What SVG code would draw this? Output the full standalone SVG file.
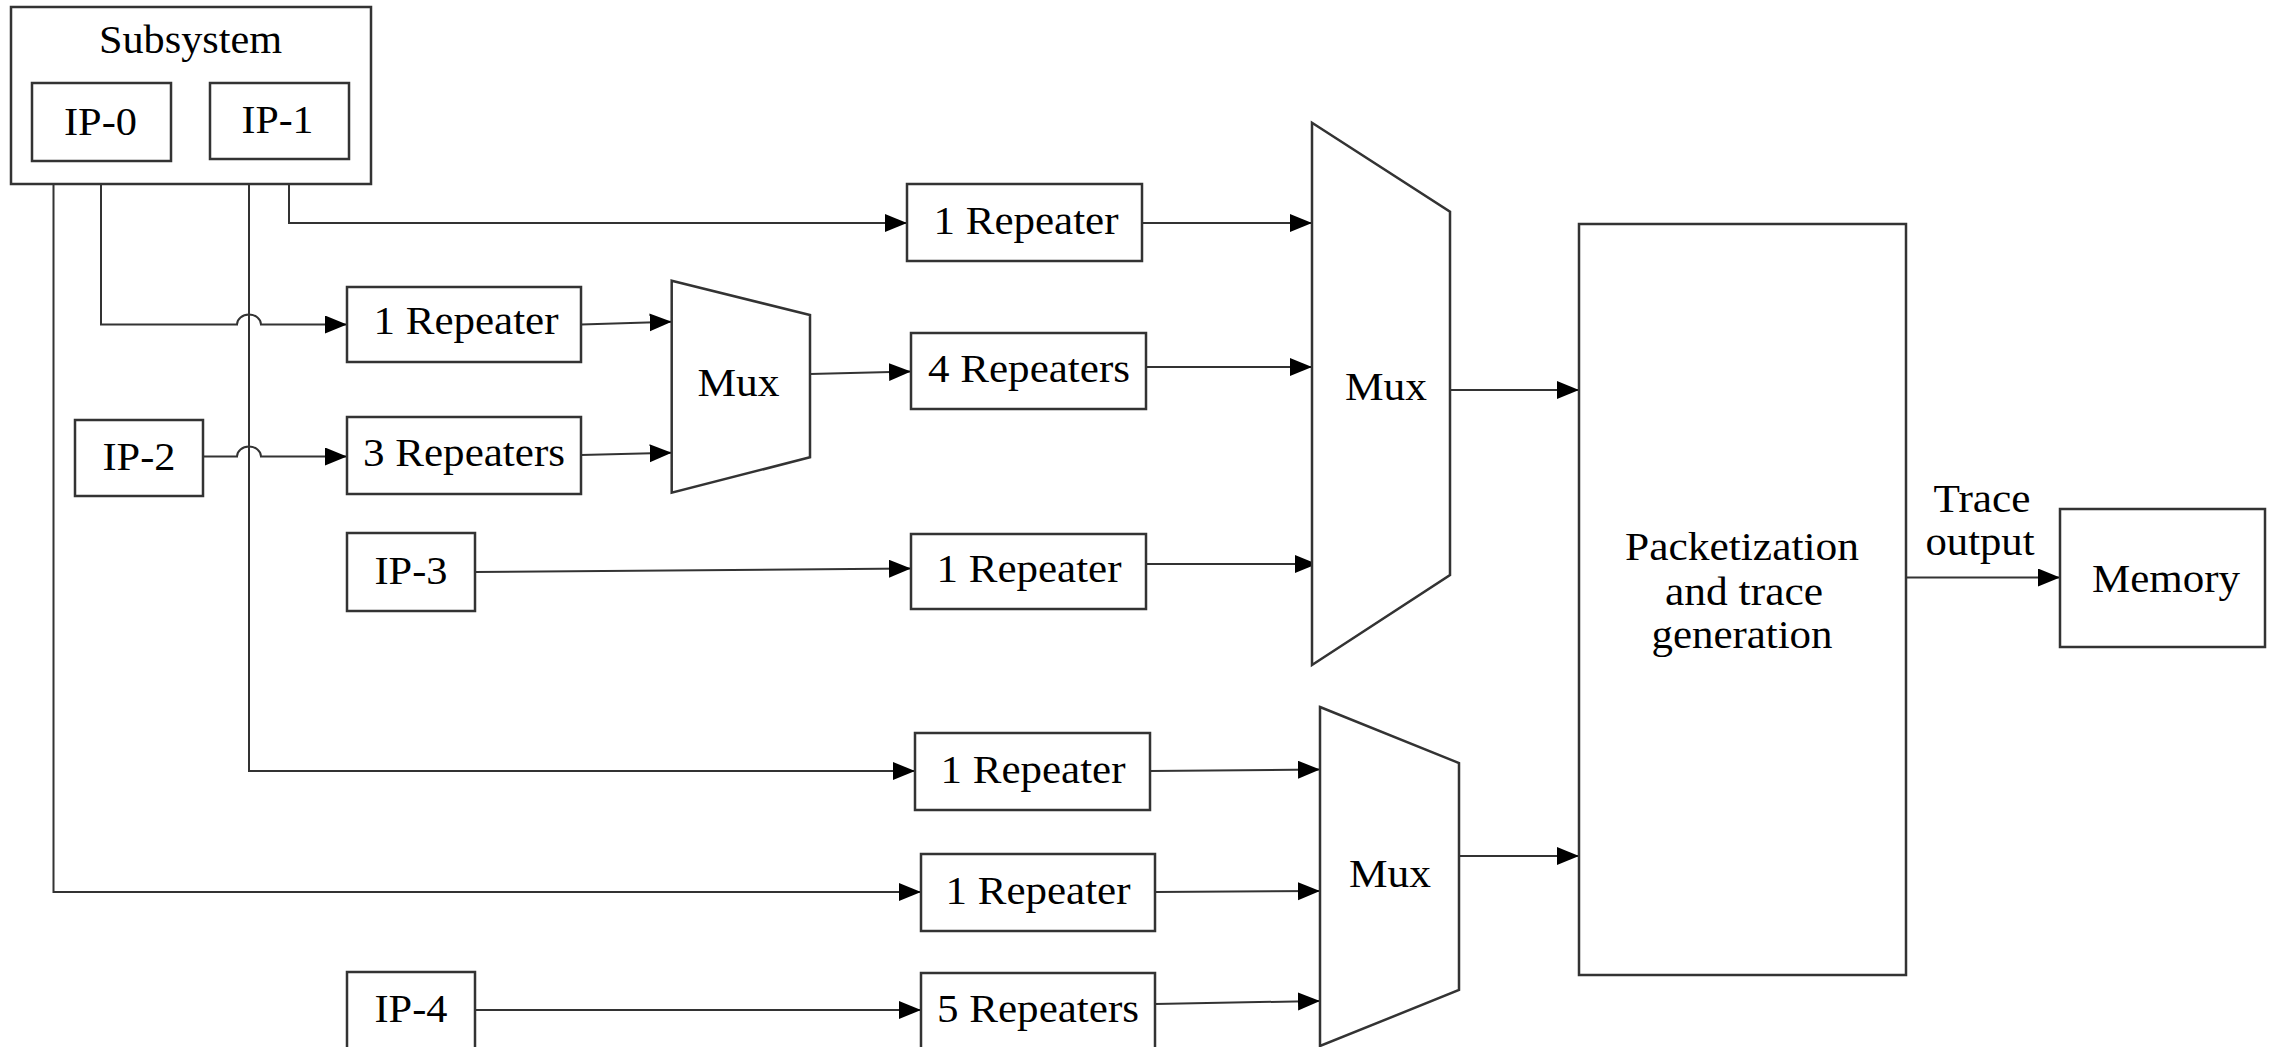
<svg xmlns="http://www.w3.org/2000/svg" width="2275" height="1047" viewBox="0 0 2275 1047">
  <style>
    .box { fill: #fff; stroke: #333; stroke-width: 2.5; }
    .wire { fill: none; stroke: #333; stroke-width: 2; }
    .arrow { fill: none; stroke: #333; stroke-width: 2; marker-end: url(#head); }
    text { font-family: "Liberation Serif", "Times New Roman", serif; font-size: 40px; fill: #000; text-anchor: middle; }
  </style>
  <defs>
    <marker id="head" markerUnits="userSpaceOnUse" markerWidth="24" markerHeight="20" refX="22" refY="9" orient="auto">
      <path d="M0,0 L22,9 L0,18 Z" fill="#000"/>
    </marker>
  </defs>
  <rect width="2275" height="1047" fill="#fff"/>

  <!-- connectors -->
  <g id="connectors">
    <!-- IP-0 outputs -->
    <path class="arrow" d="M53.5,161 V892 H921"/>
    <path class="arrow" d="M101,161 V324.5 H237 A12,10 0 0 1 261,324.5 H347"/>
    <!-- IP-1 outputs -->
    <path class="arrow" d="M249,159 V771 H915"/>
    <path class="arrow" d="M289,159 V223 H907"/>
    <!-- IP-2 to 3 Repeaters, hopping over IP-1 line -->
    <path class="arrow" d="M203,456.5 H237 A12,10 0 0 1 261,456.5 H347"/>
    <!-- into small mux -->
    <path class="arrow" d="M581,324.5 L671.7,321.7"/>
    <path class="arrow" d="M581,455 L671.7,452.7"/>
    <!-- small mux to 4 Repeaters -->
    <path class="arrow" d="M810,374 L911,371.5"/>
    <!-- IP-3 to 1 Repeater -->
    <path class="arrow" d="M475,572 L911,568.5"/>
    <!-- into upper big mux -->
    <path class="arrow" d="M1142,223 H1312"/>
    <path class="arrow" d="M1146,367 H1312"/>
    <path class="arrow" d="M1146,564 H1317"/>
    <!-- IP-4 to 5 Repeaters -->
    <path class="arrow" d="M475,1010 H921"/>
    <!-- into lower mux -->
    <path class="arrow" d="M1150,771 L1320,769.5"/>
    <path class="arrow" d="M1155,892 L1320,891"/>
    <path class="arrow" d="M1155,1004 L1320,1001"/>
    <!-- mux outputs -->
    <path class="arrow" d="M1450,390 H1579"/>
    <path class="arrow" d="M1459,856 H1579"/>
    <!-- trace output -->
    <path class="arrow" d="M1906,577.5 H2060"/>
  </g>

  <!-- nodes -->
  <g id="subsystem">
    <rect class="box" x="11" y="7" width="360" height="177"/>
    <text x="190.5" y="53" textLength="183" lengthAdjust="spacingAndGlyphs">Subsystem</text>
  </g>
  <g id="ip0">
    <rect class="box" x="32" y="83" width="139" height="78"/>
    <text x="100.5" y="135" textLength="73" lengthAdjust="spacingAndGlyphs">IP-0</text>
  </g>
  <g id="ip1">
    <rect class="box" x="210" y="83" width="139" height="76"/>
    <text x="277.5" y="133" textLength="72" lengthAdjust="spacingAndGlyphs">IP-1</text>
  </g>
  <g id="ip2">
    <rect class="box" x="75" y="420" width="128" height="76"/>
    <text x="139" y="470" textLength="73" lengthAdjust="spacingAndGlyphs">IP-2</text>
  </g>
  <g id="ip3">
    <rect class="box" x="347" y="533" width="128" height="78"/>
    <text x="411" y="584" textLength="73" lengthAdjust="spacingAndGlyphs">IP-3</text>
  </g>
  <g id="ip4">
    <rect class="box" x="347" y="972" width="128" height="90"/>
    <text x="411" y="1022" textLength="73" lengthAdjust="spacingAndGlyphs">IP-4</text>
  </g>

  <g id="rep-top">
    <rect class="box" x="907" y="184" width="235" height="77"/>
    <text x="1026" y="234" textLength="185" lengthAdjust="spacingAndGlyphs">1 Repeater</text>
  </g>
  <g id="rep-ip0">
    <rect class="box" x="347" y="287" width="234" height="75"/>
    <text x="466" y="334" textLength="185" lengthAdjust="spacingAndGlyphs">1 Repeater</text>
  </g>
  <g id="rep-ip2">
    <rect class="box" x="347" y="417" width="234" height="77"/>
    <text x="464" y="466" textLength="202" lengthAdjust="spacingAndGlyphs">3 Repeaters</text>
  </g>
  <g id="rep-mux">
    <rect class="box" x="911" y="333" width="235" height="76"/>
    <text x="1029" y="382" textLength="202" lengthAdjust="spacingAndGlyphs">4 Repeaters</text>
  </g>
  <g id="rep-ip3">
    <rect class="box" x="911" y="534" width="235" height="75"/>
    <text x="1029" y="582" textLength="185" lengthAdjust="spacingAndGlyphs">1 Repeater</text>
  </g>
  <g id="rep-ip1">
    <rect class="box" x="915" y="733" width="235" height="77"/>
    <text x="1033" y="783" textLength="185" lengthAdjust="spacingAndGlyphs">1 Repeater</text>
  </g>
  <g id="rep-ip0b">
    <rect class="box" x="921" y="854" width="234" height="77"/>
    <text x="1038" y="904" textLength="185" lengthAdjust="spacingAndGlyphs">1 Repeater</text>
  </g>
  <g id="rep-ip4">
    <rect class="box" x="921" y="973" width="234" height="90"/>
    <text x="1038" y="1022" textLength="202" lengthAdjust="spacingAndGlyphs">5 Repeaters</text>
  </g>

  <g id="mux-small">
    <polygon class="box" points="671.7,280.7 810,315 810,457.3 671.7,492.7"/>
    <text x="738.5" y="396" textLength="82" lengthAdjust="spacingAndGlyphs">Mux</text>
  </g>
  <g id="mux-upper">
    <polygon class="box" points="1312,122.7 1450,211.7 1450,575 1312,665"/>
    <text x="1386" y="400" textLength="82" lengthAdjust="spacingAndGlyphs">Mux</text>
  </g>
  <g id="mux-lower">
    <polygon class="box" points="1320,707 1459,763 1459,990 1320,1046"/>
    <text x="1390" y="887" textLength="82" lengthAdjust="spacingAndGlyphs">Mux</text>
  </g>

  <g id="packetizer">
    <rect class="box" x="1579" y="224" width="327" height="751"/>
    <text x="1742" y="560" textLength="234" lengthAdjust="spacingAndGlyphs">Packetization</text>
    <text x="1744" y="605" textLength="158" lengthAdjust="spacingAndGlyphs">and trace</text>
    <text x="1742" y="648" textLength="181" lengthAdjust="spacingAndGlyphs">generation</text>
  </g>
  <g id="trace-label">
    <text x="1982" y="512" textLength="97" lengthAdjust="spacingAndGlyphs">Trace</text>
    <text x="1980" y="555" textLength="109" lengthAdjust="spacingAndGlyphs">output</text>
  </g>
  <g id="memory">
    <rect class="box" x="2060" y="509" width="205" height="138"/>
    <text x="2166" y="592" textLength="148" lengthAdjust="spacingAndGlyphs">Memory</text>
  </g>
</svg>
